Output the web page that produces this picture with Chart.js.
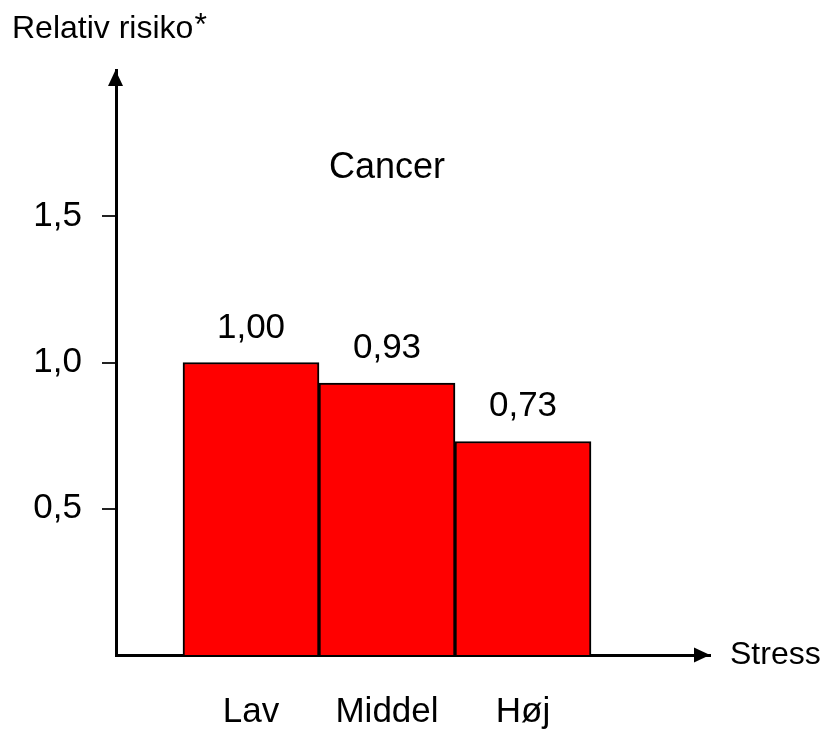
<!DOCTYPE html>
<html>
<head>
<meta charset="utf-8">
<script src="https://cdn.jsdelivr.net/npm/chart.js@4"></script>
<style>
  html, body { margin: 0; padding: 0; background: #fff; }
  #wrap { width: 831px; height: 735px; }
</style>
</head>
<body>
<div id="wrap"><canvas id="chart" width="831" height="735"></canvas></div>
<script>
// data
const categories = ['Lav', 'Middel', 'Høj'];
const positions = [1, 2, 3];
const values = [1.00, 0.93, 0.73];
const yTicks = [0.5, 1.0, 1.5];

const yTitle = 'Relativ risiko';
const xTitle = 'Stress';
const groupTitle = 'Cancer';

const FONT = '"Liberation Sans", Arial, sans-serif';

function comma(v, d) {
  return v.toFixed(d).replace('.', ',');
}

// arrows, titles and value labels
const extras = {
  id: 'extras',
  afterDraw(chart) {
    const ctx = chart.ctx;
    const a = chart.chartArea;
    const xs = chart.scales.x;
    const ys = chart.scales.y;
    ctx.save();
    ctx.fillStyle = '#000';

    // arrow heads
    ctx.beginPath();
    ctx.moveTo(a.left - 0.5, a.top);
    ctx.lineTo(a.left - 8, a.top + 16);
    ctx.lineTo(a.left + 7, a.top + 16);
    ctx.closePath();
    ctx.fill();

    ctx.beginPath();
    ctx.moveTo(a.right, a.bottom);
    ctx.lineTo(a.right - 16, a.bottom - 7.5);
    ctx.lineTo(a.right - 16, a.bottom + 7.5);
    ctx.closePath();
    ctx.fill();

    // axis titles
    ctx.textAlign = 'left';
    ctx.textBaseline = 'alphabetic';
    ctx.font = '32px ' + FONT;
    ctx.fillText(yTitle, 12, 38);
    const w = ctx.measureText(yTitle).width;
    ctx.fillText('*', 12 + w + 1, 35);
    ctx.fillText(xTitle, a.right + 20, a.bottom + 9);

    // group title
    ctx.textAlign = 'center';
    ctx.font = '36px ' + FONT;
    ctx.fillText(groupTitle, xs.getPixelForValue(2), ys.getPixelForValue(1.63));

    // value labels
    ctx.font = '35px ' + FONT;
    chart.getDatasetMeta(0).data.forEach((bar, i) => {
      ctx.fillText(comma(values[i], 2), bar.x, bar.y - 25);
    });
    ctx.restore();
  }
};

new Chart(document.getElementById('chart'), {
  type: 'bar',
  data: {
    datasets: [{
      data: positions.map((p, i) => ({ x: p, y: values[i] })),
      backgroundColor: '#ff0000',
      borderColor: '#000',
      borderWidth: 2,
      barPercentage: 1,
      categoryPercentage: 1
    }]
  },
  options: {
    responsive: false,
    animation: false,
    layout: { padding: { left: 0, top: 70, right: 121, bottom: 0 } },
    plugins: {
      legend: { display: false },
      tooltip: { enabled: false }
    },
    scales: {
      x: {
        type: 'linear',
        offset: false,
        min: 1 - 135 / 136,
        max: 3 + 187 / 136,
        afterBuildTicks(scale) {
          scale.ticks = positions.map(v => ({ value: v }));
        },
        afterFit(scale) { scale.height = 80; },
        grid: { display: false, drawTicks: false, offset: false },
        border: { display: true, color: '#000', width: 3 },
        ticks: {
          padding: 36,
          color: '#000',
          font: { family: FONT, size: 35 },
          callback: v => categories[positions.indexOf(v)] || ''
        }
      },
      y: {
        min: 0,
        max: 2,
        afterBuildTicks(scale) {
          scale.ticks = yTicks.map(v => ({ value: v }));
        },
        afterFit(scale) { scale.width = 116; },
        grid: {
          display: true,
          drawOnChartArea: false,
          drawTicks: true,
          tickLength: 14,
          color: '#222',
          lineWidth: 2
        },
        border: { display: true, color: '#000', width: 3 },
        ticks: {
          padding: 20,
          color: '#000',
          font: { family: FONT, size: 35 },
          callback: v => comma(v, 1)
        }
      }
    }
  },
  plugins: [extras]
});
</script>
</body>
</html>
